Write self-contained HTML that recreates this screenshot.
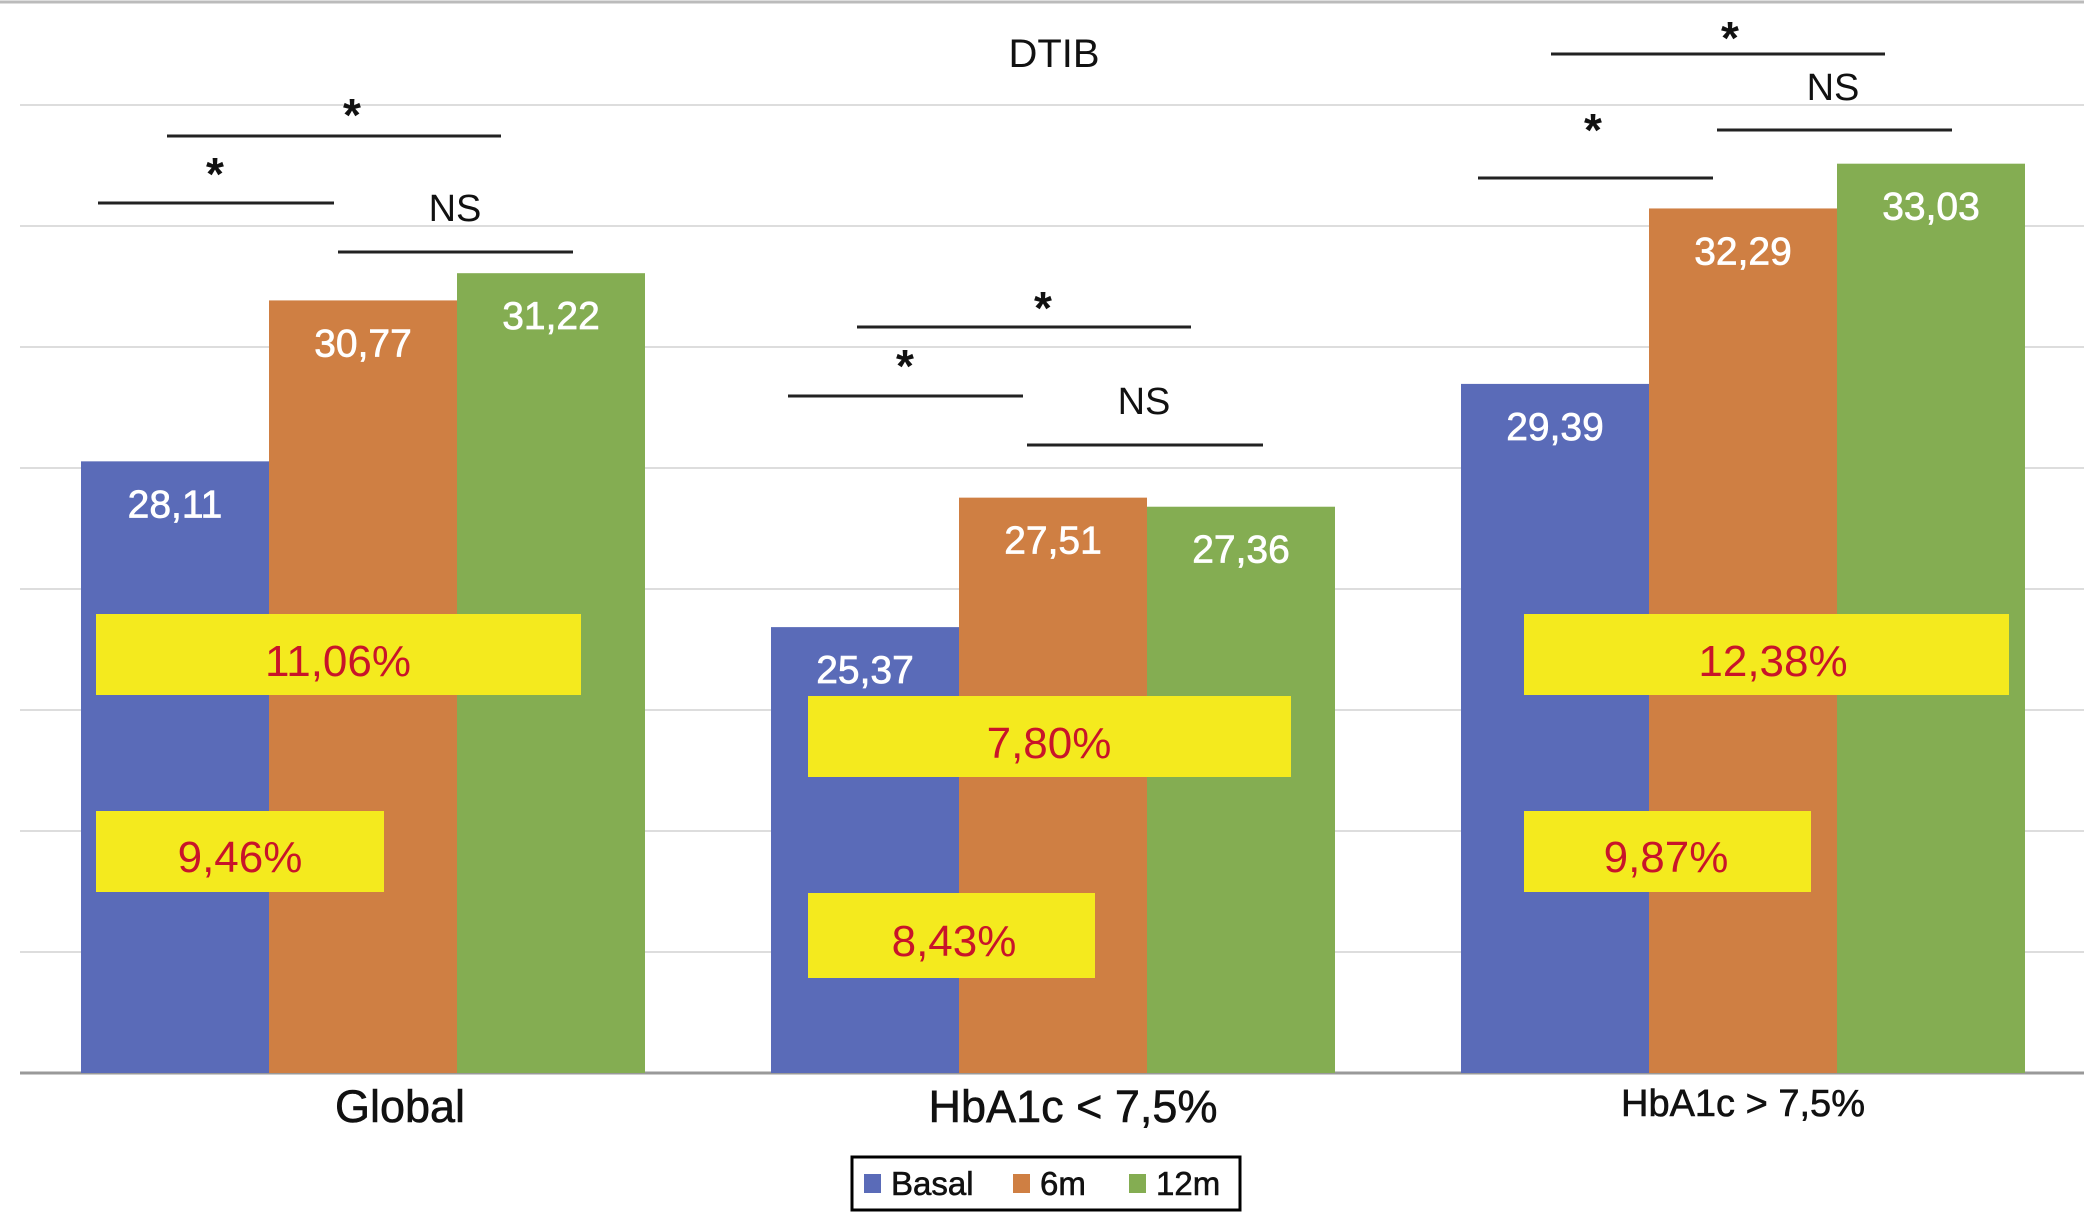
<!DOCTYPE html>
<html><head><meta charset="utf-8">
<style>
html,body{margin:0;padding:0;background:#fff;}
svg{display:block;font-family:"Liberation Sans",Arial,sans-serif;}
</style></head>
<body>
<svg id="chart" width="2084" height="1213" viewBox="0 0 2084 1213">
  <rect x="0" y="0" width="2084" height="1213" fill="#fff"/>
  <line x1="0" y1="2" x2="2084" y2="2" stroke="#bbb" stroke-width="3"/>
  <g id="grid"></g>
  <g id="bars"></g>
  <text x="1054" y="67" font-size="40" text-anchor="middle" fill="#111">DTIB</text>

  <g font-size="44" fill="#c8142a" text-anchor="middle">
    <rect x="96" y="614" width="485" height="81" fill="#f4ea1e"/>
    <text x="338" y="676" fill="#c8142a">11,06%</text>
    <rect x="96" y="811" width="288" height="81" fill="#f4ea1e"/>
    <text x="240" y="872" fill="#c8142a">9,46%</text>
    <rect x="808" y="696" width="483" height="81" fill="#f4ea1e"/>
    <text x="1049" y="758" fill="#c8142a">7,80%</text>
    <rect x="808" y="893" width="287" height="85" fill="#f4ea1e"/>
    <text x="954" y="956" fill="#c8142a">8,43%</text>
    <rect x="1524" y="614" width="485" height="81" fill="#f4ea1e"/>
    <text x="1773" y="676" fill="#c8142a">12,38%</text>
    <rect x="1524" y="811" width="287" height="81" fill="#f4ea1e"/>
    <text x="1666" y="872" fill="#c8142a">9,87%</text>
  </g>

  <g stroke="#222" stroke-width="3" font-size="38" text-anchor="middle">
    <line x1="167" y1="136" x2="501" y2="136"/>
    <text x="352" y="131" stroke="none" fill="#111" font-size="46" font-weight="bold">*</text>
    <line x1="98" y1="203" x2="334" y2="203"/>
    <text x="215" y="190" stroke="none" fill="#111" font-size="46" font-weight="bold">*</text>
    <line x1="338" y1="252" x2="573" y2="252"/>
    <text x="455" y="221" stroke="none" fill="#111">NS</text>

    <line x1="857" y1="327" x2="1191" y2="327"/>
    <text x="1043" y="324" stroke="none" fill="#111" font-size="46" font-weight="bold">*</text>
    <line x1="788" y1="396" x2="1023" y2="396"/>
    <text x="905" y="382" stroke="none" fill="#111" font-size="46" font-weight="bold">*</text>
    <line x1="1027" y1="445" x2="1263" y2="445"/>
    <text x="1144" y="414" stroke="none" fill="#111">NS</text>

    <line x1="1551" y1="54" x2="1885" y2="54"/>
    <text x="1730" y="54" stroke="none" fill="#111" font-size="46" font-weight="bold">*</text>
    <line x1="1478" y1="178" x2="1713" y2="178"/>
    <text x="1593" y="146" stroke="none" fill="#111" font-size="46" font-weight="bold">*</text>
    <line x1="1717" y1="130" x2="1952" y2="130"/>
    <text x="1833" y="100" stroke="none" fill="#111">NS</text>
  </g>

  <g id="xlabels"></g>

  <g>
    <rect x="852" y="1157" width="388" height="53" fill="#fff" stroke="#000" stroke-width="3"/>
    <rect x="864" y="1174" width="17" height="19" fill="#5a6bb8"/>
    <text x="891" y="1195" font-size="33" fill="#111" stroke="#111" stroke-width="0.6">Basal</text>
    <rect x="1013" y="1174" width="17" height="19" fill="#cf7f43"/>
    <text x="1040" y="1195" font-size="33" fill="#111" stroke="#111" stroke-width="0.6">6m</text>
    <rect x="1129" y="1174" width="17" height="19" fill="#84ad52"/>
    <text x="1156" y="1195" font-size="33" fill="#111" stroke="#111" stroke-width="0.6">12m</text>
  </g>
</svg>
<script>
const categories = ["Global", "HbA1c < 7,5%", "HbA1c > 7,5%"];
const basal = [28.11, 25.37, 29.39];
const m6 = [30.77, 27.51, 32.29];
const m12 = [31.22, 27.36, 33.03];
const gridTicks = [18, 20, 22, 24, 26, 28, 30, 32, 34];

const NS = "http://www.w3.org/2000/svg";
const yMin = 18, base = 1073, unit = 60.5;
function y(v){ return base - (v - yMin) * unit; }
function groupCenter(i){ return 363 + i * 690; }
const barW = 188;
const colors = ["#5a6bb8", "#cf7f43", "#84ad52"];
const seriesNames = ["basal", "6m", "12m"];
const series = [basal, m6, m12];
function fmt(v){ return v.toFixed(2).replace(".", ","); }

const grid = document.getElementById("grid");
gridTicks.forEach((t, k) => {
  const l = document.createElementNS(NS, "line");
  l.setAttribute("x1", 20); l.setAttribute("x2", 2084);
  l.setAttribute("y1", y(t)); l.setAttribute("y2", y(t));
  l.setAttribute("stroke", k === 0 ? "#999" : "#ddd");
  l.setAttribute("stroke-width", k === 0 ? 3 : 2);
  
  
  grid.appendChild(l);
});

const bars = document.getElementById("bars");
categories.forEach((c, i) => {
  series.forEach((s, j) => {
    const x0 = groupCenter(i) - 1.5 * barW + j * barW;
    const r = document.createElementNS(NS, "rect");
    r.setAttribute("x", x0); r.setAttribute("width", barW);
    r.setAttribute("y", y(s[i])); r.setAttribute("height", base - y(s[i]));
    r.setAttribute("fill", colors[j]);
    
    
    bars.appendChild(r);
    const t = document.createElementNS(NS, "text");
    t.setAttribute("x", x0 + barW / 2);
    t.setAttribute("y", y(s[i]) + 56);
    t.setAttribute("text-anchor", "middle");
    t.setAttribute("font-size", "39");
    t.setAttribute("fill", "#fff");
    t.setAttribute("stroke", "#fff");
    t.setAttribute("stroke-width", "0.7");
    t.textContent = fmt(s[i]);
    
    
    bars.appendChild(t);
  });
});

const xl = document.getElementById("xlabels");
categories.forEach((c, i) => {
  const t = document.createElementNS(NS, "text");
  t.setAttribute("x", groupCenter(i) + (i === 0 ? 37 : (i === 1 ? 20 : 0)));
  t.setAttribute("y", i === 2 ? 1116 : 1122);
  t.setAttribute("text-anchor", "middle");
  t.setAttribute("font-size", i === 2 ? "38" : "45");
  t.setAttribute("fill", "#111");
  t.setAttribute("stroke", "#111");
  t.setAttribute("stroke-width", "0.6");
  t.textContent = c;
  
  
  xl.appendChild(t);
});
</script>
</body></html>
